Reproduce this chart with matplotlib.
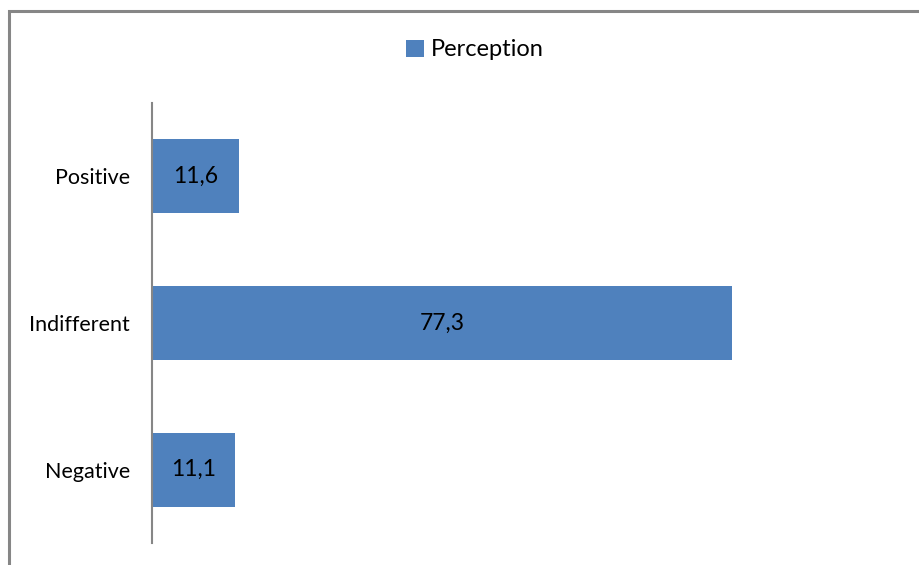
import matplotlib
matplotlib.use("Agg")
import matplotlib.pyplot as plt
from matplotlib.patches import Rectangle

categories = ["Negative", "Indifferent", "Positive"]
values = [11.1, 77.3, 11.6]
value_labels = ["11,1", "77,3", "11,6"]
series_name = "Perception"

plt.rcParams['font.family'] = ['Lato', 'DejaVu Sans']

W, H = 920, 565
fig = plt.figure(figsize=(W / 100, H / 100), dpi=100)

# outer frame (extends beyond canvas right/bottom)
fig.patches.append(Rectangle((9 / W, -0.05), 1.2, (H - 11) / H + 0.05,
                             transform=fig.transFigure, fill=False,
                             edgecolor='#868686', linewidth=2.2))

ax = fig.add_axes([152 / W, (H - 543) / H, 750 / W, (543 - 103) / H])
color = '#4F81BD'
bars = ax.barh(range(len(categories)), values, height=0.505, color=color,
               label=series_name)
ax.set_xlim(0, 100)
ax.set_ylim(-0.5, len(categories) - 0.5)
ax.set_yticks(range(len(categories)))
ax.set_yticklabels(categories, fontsize=15.5)
ax.tick_params(axis='y', length=0, pad=16)
ax.set_xticks([])
for s in ['top', 'right', 'bottom']:
    ax.spines[s].set_visible(False)
ax.spines['left'].set_color('#868686')
ax.spines['left'].set_linewidth(1.5)

for b, lab in zip(bars, value_labels):
    ax.text(b.get_x() + b.get_width() / 2, b.get_y() + b.get_height() / 2, lab,
            ha='center', va='center', fontsize=16.5, color='black')

fig.legend(handles=[bars], labels=[series_name], loc='center',
           bbox_to_anchor=(475 / W, (H - 50) / H), frameon=False,
           fontsize=17, handlelength=0.75, handleheight=0.75,
           handletextpad=0.3)

fig.savefig("out.png", dpi=100)
